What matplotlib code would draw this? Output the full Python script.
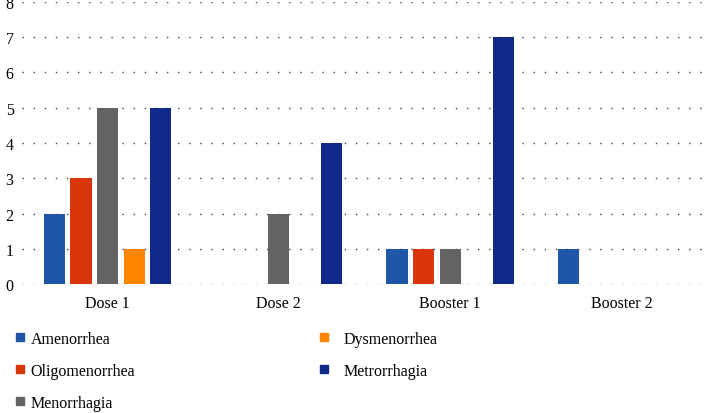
import numpy as np
import matplotlib.pyplot as plt
from matplotlib.lines import Line2D

plt.rcParams['font.family'] = ['Liberation Serif', 'DejaVu Serif']

# data
groups = ['Dose 1', 'Dose 2', 'Booster 1', 'Booster 2']
series = ['Amenorrhea', 'Oligomenorrhea', 'Menorrhagia', 'Dysmenorrhea', 'Metrorrhagia']
amenorrhea = [2, 0, 1, 1]
oligomenorrhea = [3, 0, 1, 0]
menorrhagia = [5, 2, 1, 0]
dysmenorrhea = [1, 0, 0, 0]
metrorrhagia = [5, 4, 7, 0]
colors = ['#1f56a8', '#d9360b', '#636363', '#ff8400', '#0f2a8a']

values = [amenorrhea, oligomenorrhea, menorrhagia, dysmenorrhea, metrorrhagia]

fig = plt.figure(figsize=(7.07, 4.14), dpi=100)
ax = fig.add_axes([0.031, 0.311, 0.969, 0.682])

x = np.arange(len(groups))
step = 0.155
width = 0.123
for i, (vals, c) in enumerate(zip(values, colors)):
    ax.bar(x + (i - 2) * step, vals, width, color=c, zorder=3)

ax.set_xlim(-0.5, 3.5)
ax.set_ylim(0, 8)
ax.set_yticks(range(0, 9))
ax.set_xticks(x)
ax.set_xticklabels(groups)
ax.yaxis.grid(True, linestyle=(0, (1, 7)), color='#444444', linewidth=1.0)
for s in ax.spines.values():
    s.set_visible(False)
ax.tick_params(length=0, labelsize=11.5)
ax.tick_params(axis='y', pad=6)
ax.tick_params(axis='x', pad=8)

# legend, two columns
handles = [Line2D([], [], marker='s', linestyle='none', color=c, markersize=6) for c in colors]
common = dict(loc='upper left', frameon=False, fontsize=11.5, labelspacing=1.0,
              borderpad=0, borderaxespad=0, handlelength=0.6)
fig.legend(handles[:3], series[:3], bbox_to_anchor=(0.021, 0.199),
           handletextpad=0.4, **common)
fig.legend(handles[3:], series[3:], bbox_to_anchor=(0.4512, 0.199),
           handletextpad=0.95, **common)

fig.savefig('out.png', dpi=100)
